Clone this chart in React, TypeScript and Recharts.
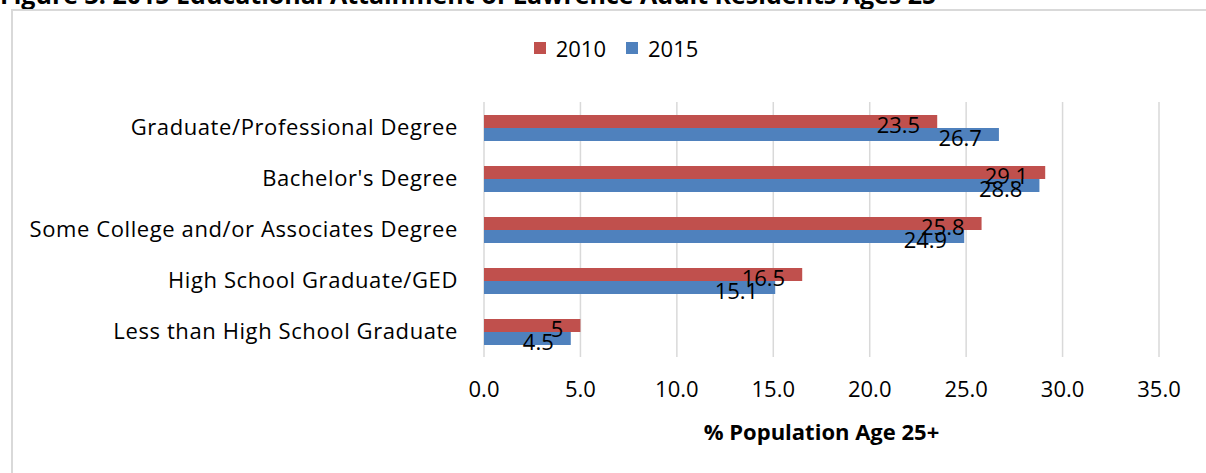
import React from "react";
import { BarChart, Bar, XAxis, YAxis, CartesianGrid, LabelList } from "recharts";

const categories = [
  "Graduate/Professional Degree",
  "Bachelor's Degree",
  "Some College and/or Associates Degree",
  "High School Graduate/GED",
  "Less than High School Graduate",
];
const values2010 = [23.5, 29.1, 25.8, 16.5, 5];
const values2015 = [26.7, 28.8, 24.9, 15.1, 4.5];
const xTicks = [0, 5, 10, 15, 20, 25, 30, 35];

const series = [
  { key: "y2010", name: "2010", color: "#C0504D" },
  { key: "y2015", name: "2015", color: "#4F81BD" },
];

const data = categories.map((name, i) => ({
  name,
  y2010: values2010[i],
  y2015: values2015[i],
}));

const FONT = "'Open Sans', sans-serif";

const EndLabel = (props: any) => {
  const { x, y, width, height, value } = props;
  return (
    <text
      x={x + width - 17}
      y={y + height / 2 + 2.5}
      textAnchor="end"
      dominantBaseline="central"
      fontSize={22}
      fontFamily={FONT}
      fill="#000"
    >
      {value}
    </text>
  );
};

export default function App() {
  return (
    <div
      style={{
        position: "absolute",
        left: 0,
        top: 0,
        width: 1206,
        height: 473,
        overflow: "hidden",
        background: "#fff",
        fontFamily: FONT,
      }}
    >
      <div
        style={{
          position: "absolute",
          left: 0,
          top: -21,
          fontSize: 25,
          fontWeight: 700,
          whiteSpace: "nowrap",
          lineHeight: "30px",
        }}
      >
        Figure 3: 2015 Educational Attainment of Lawrence Adult Residents Ages 25
      </div>
      <div
        style={{
          position: "absolute",
          left: 11,
          top: 9,
          width: 1300,
          height: 600,
          borderLeft: "2px solid #d9d9d9",
          borderTop: "2px solid #d9d9d9",
          background: "#fff",
        }}
      />
      <div
        style={{
          position: "absolute",
          top: 34,
          left: 0,
          width: 1232,
          display: "flex",
          justifyContent: "center",
          fontSize: 22,
          lineHeight: "28px",
        }}
      >
        {series.map((s) => (
          <div key={s.key} style={{ display: "flex", alignItems: "center", margin: "0 10px" }}>
            <div style={{ width: 12, height: 12, background: s.color, marginRight: 10 }} />
            <span>{s.name}</span>
          </div>
        ))}
      </div>
      <div style={{ position: "absolute", left: 0, top: 0 }}>
        <BarChart
          width={1206}
          height={473}
          data={data}
          layout="vertical"
          margin={{ top: 102, right: 47, bottom: 0, left: 0 }}
          barGap={0}
          barSize={13}
        >
          <CartesianGrid horizontal={false} stroke="#d9d9d9" strokeWidth={1.5} />
          <XAxis
            type="number"
            domain={[0, 35]}
            ticks={xTicks}
            tickFormatter={(v: number) => v.toFixed(1)}
            axisLine={false}
            tickLine={false}
            tickSize={6}
            tickMargin={18}
            height={116}
            tick={{ fontSize: 22, fill: "#000", fontFamily: FONT }}
            label={{
              value: "% Population Age 25+",
              position: "insideBottom",
              offset: 33,
              fontSize: 22,
              fontWeight: 700,
              fill: "#000",
              fontFamily: FONT,
            }}
          />
          <YAxis
            type="category"
            dataKey="name"
            width={484}
            axisLine={false}
            tickLine={false}
            tickSize={6}
            tickMargin={20}
            tick={{ fontSize: 22, fill: "#000", fontFamily: FONT, letterSpacing: 0.6 }}
          />
          {series.map((s) => (
            <Bar key={s.key} dataKey={s.key} name={s.name} fill={s.color} isAnimationActive={false}>
              <LabelList dataKey={s.key} content={EndLabel} />
            </Bar>
          ))}
        </BarChart>
      </div>
    </div>
  );
}
